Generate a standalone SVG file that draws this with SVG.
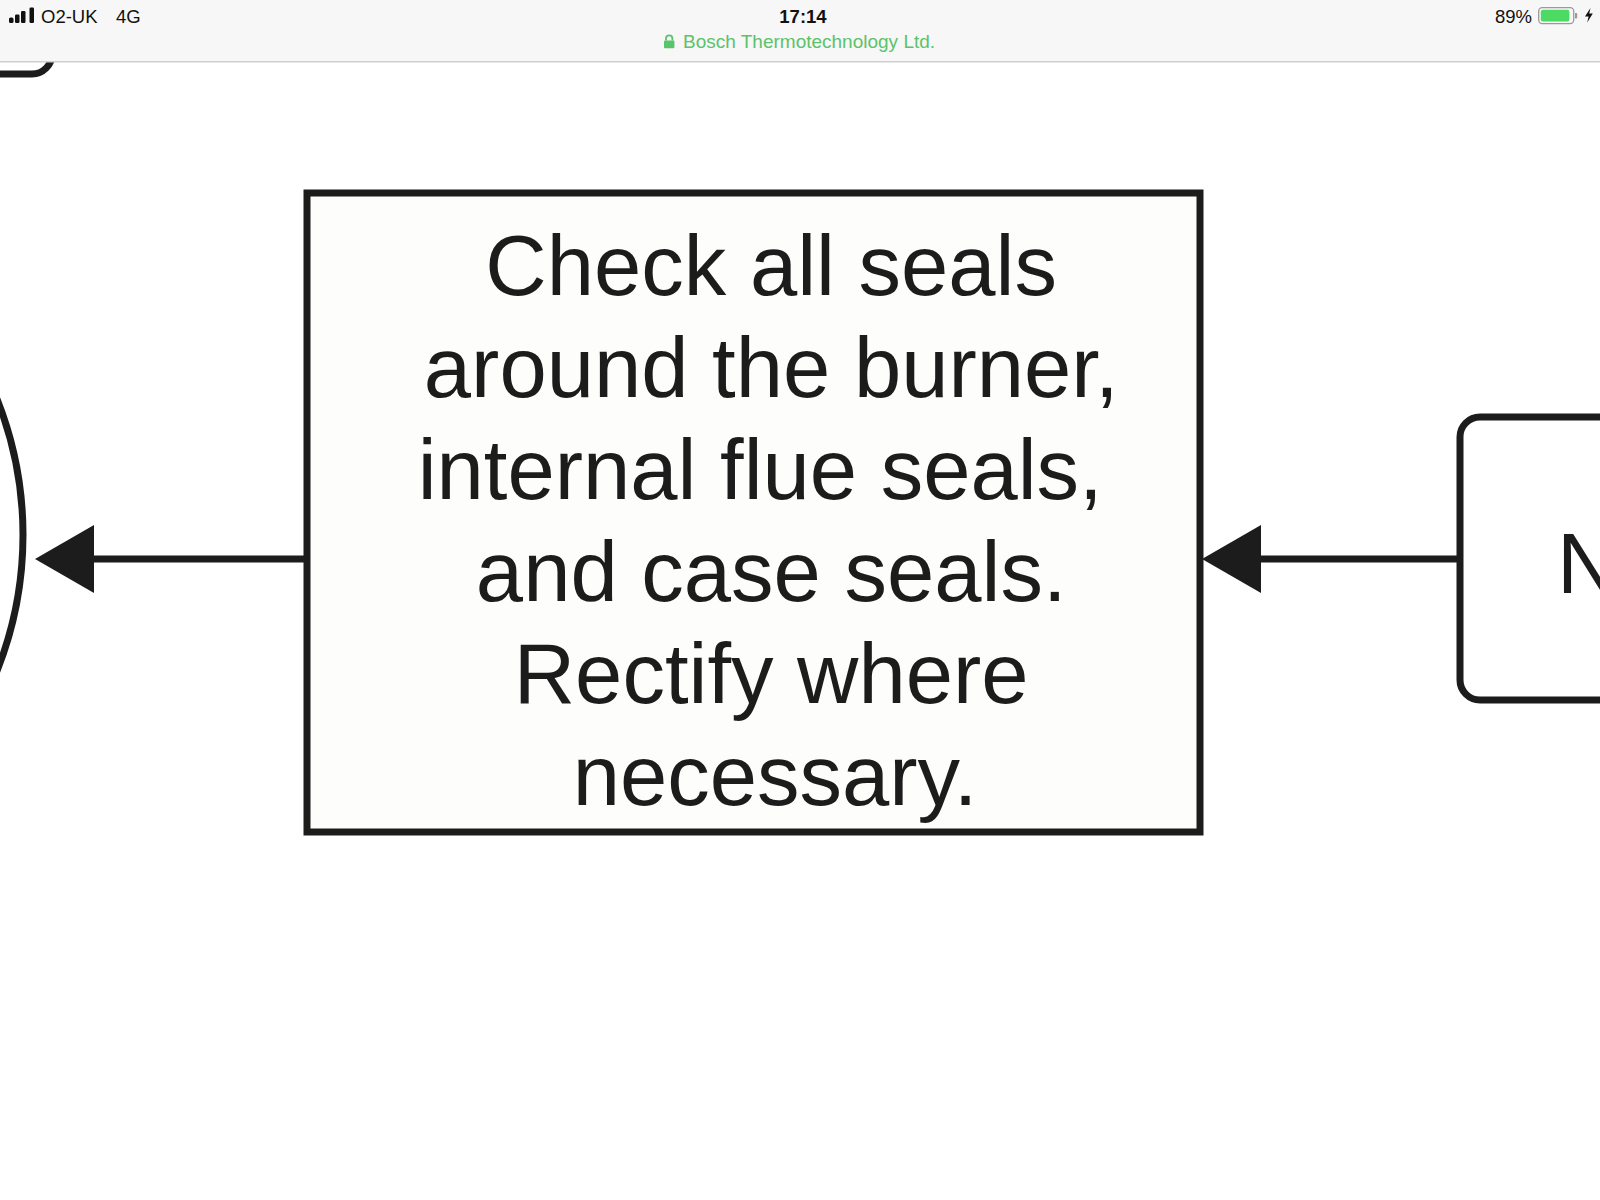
<svg xmlns="http://www.w3.org/2000/svg" width="1600" height="1200" viewBox="0 0 1600 1200">
<style>
.shape{stroke:#1c1c1c;stroke-width:7;}
.lbl{font-family:"Liberation Sans",Arial,Helvetica,sans-serif;font-size:85px;fill:#1c1c1c;text-anchor:middle;}
.status{font-family:"Liberation Sans",Arial,Helvetica,sans-serif;font-size:18.5px;fill:#111;}
.conn{stroke:#1c1c1c;stroke-width:7;fill:none;marker-end:url(#arrow);}
</style>
<defs>
<marker id="arrow" markerUnits="userSpaceOnUse" markerWidth="60" markerHeight="70" refX="0" refY="34" orient="auto" overflow="visible">
<path d="M0,0 L59,34 L0,68 Z" fill="#1c1c1c"/>
</marker>
</defs>
<rect x="0" y="0" width="1600" height="1200" fill="#ffffff"/>

<g id="node-top-left">
<rect class="shape" x="-120" y="-200" width="172" height="274" rx="20" fill="#ffffff"/>
</g>

<g id="node-left-circle">
<circle class="shape" cx="-345" cy="535" r="368" fill="#ffffff"/>
</g>

<g id="node-main">
<rect class="shape" x="307" y="193" width="893" height="639" fill="#fdfdfb"/>
<text class="lbl">
<tspan x="783" y="295">Check all seals</tspan>
<tspan x="783" y="397">around the burner,</tspan>
<tspan x="772" y="499">internal flue seals,</tspan>
<tspan x="783" y="601">and case seals.</tspan>
<tspan x="783" y="703">Rectify where</tspan>
<tspan x="775" y="805">necessary.</tspan>
</text>
</g>

<g id="node-right">
<rect class="shape" x="1460" y="417" width="300" height="283" rx="20" fill="#ffffff"/>
<text class="lbl" x="1557" y="593" style="text-anchor:start">N</text>
</g>

<g id="connectors">
<path class="conn" d="M1460,559 L1261,559"/>
<path class="conn" d="M307,559 L94,559"/>
</g>

<g id="status-bar">
<rect x="0" y="0" width="1600" height="61" fill="#f7f7f7"/>
<rect x="0" y="61" width="1600" height="1.5" fill="#cfcfcf"/>
<rect x="9" y="17.5" width="4.5" height="5.5" rx="1.5" fill="#111"/>
<rect x="15" y="14.5" width="4.5" height="8.5" rx="1.2" fill="#111"/>
<rect x="21" y="11" width="4.5" height="12" rx="1.2" fill="#111"/>
<rect x="29.5" y="7.5" width="4.5" height="15.5" rx="1.2" fill="#111"/>
<text class="status" x="41" y="22.7">O2-UK</text>
<text class="status" x="116" y="22.7">4G</text>
<text class="status" x="803" y="22.7" text-anchor="middle" font-weight="bold">17:14</text>
<path d="M666,40.5 v-2 a3.2,3.2 0 0 1 6.4,0 v2" fill="none" stroke="#5bc36a" stroke-width="1.8"/>
<rect x="664" y="40.5" width="10.4" height="7.8" rx="1" fill="#5bc36a"/>
<text class="status" x="683" y="48.3" style="fill:#5bc36a;font-size:19px">Bosch Thermotechnology Ltd.</text>
<text class="status" x="1532" y="22.7" text-anchor="end">89%</text>
<rect x="1538.7" y="7.6" width="35" height="16" rx="3.5" fill="none" stroke="#9a9a9a" stroke-width="1.3"/>
<rect x="1540.8" y="9.7" width="28.6" height="11.8" rx="2" fill="#4cd964"/>
<path d="M1575,13 h1.2 a1,1 0 0 1 1,1 v3.5 a1,1 0 0 1 -1,1 h-1.2 z" fill="#9a9a9a"/>
<path d="M1590.5,8 L1585,16.5 L1588.6,16.5 L1587.2,22.5 L1592.8,13.5 L1589.2,13.5 Z" fill="#111"/>
</g>
</svg>
